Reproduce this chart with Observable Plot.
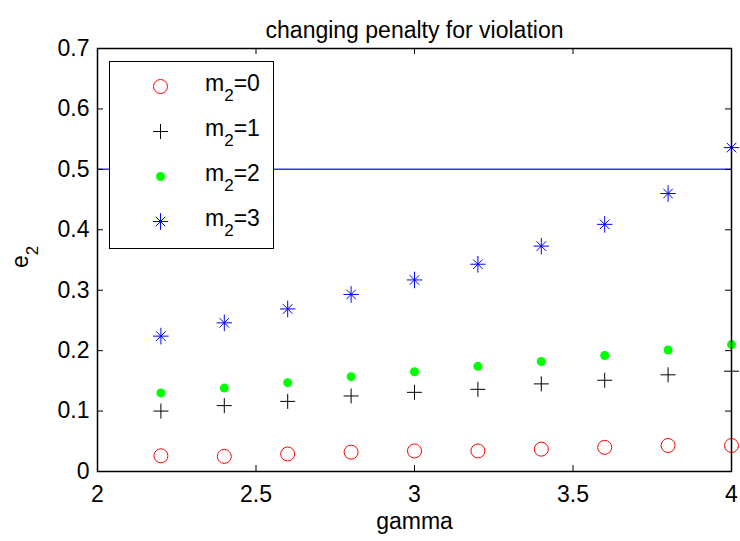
<!DOCTYPE html>
<html><head><meta charset="utf-8">
<script src="https://cdn.jsdelivr.net/npm/d3@7"></script>
<script src="https://cdn.jsdelivr.net/npm/@observablehq/plot@0.6"></script>
<style>
body{margin:0;background:#fff;}
#wrap{position:relative;width:740px;height:541px;font-family:"Liberation Sans",Arial,sans-serif;}
#legend{position:absolute;left:109px;top:61px;width:165px;height:188px;border:1.5px solid #000;background:#fff;box-sizing:border-box;}
#legend svg{position:absolute;left:0;top:0;}
.lrow{position:absolute;left:95px;font-size:23px;line-height:30px;white-space:nowrap;color:#000;}
.lrow .sub{font-size:17px;position:relative;top:10px;}
</style>
</head><body><div id="wrap"></div>
<script>
const gamma = [2.2, 2.4, 2.6, 2.8, 3.0, 3.2, 3.4, 3.6, 3.8, 4.0];
const m0 = [0.026, 0.025, 0.029, 0.032, 0.034, 0.034, 0.037, 0.040, 0.043, 0.043];
const m1 = [0.100, 0.109, 0.116, 0.125, 0.131, 0.136, 0.145, 0.151, 0.160, 0.166];
const m2 = [0.130, 0.138, 0.147, 0.157, 0.165, 0.174, 0.182, 0.192, 0.201, 0.210];
const m3 = [0.224, 0.246, 0.269, 0.293, 0.317, 0.343, 0.373, 0.409, 0.460, 0.536];
const seriesNames = ["0", "1", "2", "3"];
const xTicks = [2, 2.5, 3, 3.5, 4];
const yTicks = [0, 0.1, 0.2, 0.3, 0.4, 0.5, 0.6, 0.7];
const threshold = 0.5;
const title = "changing penalty for violation";
const xLabel = "gamma";

const W = 740, H = 541, mL = 97, mR = 9, mT = 48, mB = 70;
const pw = W - mL - mR, ph = H - mT - mB;

const plusSym = {draw(ctx, size) {
  const r = Math.sqrt(size / Math.PI);
  ctx.moveTo(-r, 0); ctx.lineTo(r, 0); ctx.moveTo(0, -r); ctx.lineTo(0, r);
}};
const starSym = {draw(ctx, size) {
  const r = Math.sqrt(size / Math.PI), d = r * 0.62;
  ctx.moveTo(-r, 0); ctx.lineTo(r, 0); ctx.moveTo(0, -r * 1.08); ctx.lineTo(0, r * 1.08);
  ctx.moveTo(-d, -d); ctx.lineTo(d, d); ctx.moveTo(-d, d); ctx.lineTo(d, -d);
}};

const styles = [
  {symbol: "circle", r: 7, stroke: "#ff0000", fill: "none", strokeWidth: 1},
  {symbol: plusSym, r: 7.5, stroke: "#000000", fill: "none", strokeWidth: 1},
  {symbol: "circle", r: 4.5, stroke: "none", fill: "#00ff00", strokeWidth: 0},
  {symbol: starSym, r: 7.7, stroke: "#0000ff", fill: "none", strokeWidth: 1}
];
const series = [m0, m1, m2, m3];

const plot = Plot.plot({
  width: W, height: H,
  marginLeft: mL, marginRight: mR, marginTop: mT, marginBottom: mB,
  style: {fontSize: "23px", fontFamily: "'Liberation Sans', Arial, sans-serif", background: "#fff", color: "#000"},
  x: {domain: [2, 4]},
  y: {domain: [0, 0.7]},
  marks: [
    Plot.ruleY([threshold], {y: d => d, stroke: "#3535ff", strokeWidth: 1.5}),
    ...series.map((s, k) => Plot.dot(gamma, {x: d => d, y: (d, i) => s[i], ...styles[k]})),
    Plot.ruleX(xTicks, {x: d => d, insetTop: ph - 6, stroke: "#000"}),
    Plot.ruleX(xTicks, {x: d => d, insetBottom: ph - 6, stroke: "#000"}),
    Plot.ruleY(yTicks, {y: d => d, insetRight: pw - 6, stroke: "#000"}),
    Plot.ruleY(yTicks, {y: d => d, insetLeft: pw - 6, stroke: "#000"}),
    Plot.frame({stroke: "#000", strokeWidth: 1.5}),
    Plot.axisX(xTicks, {tickSize: 0, tickPadding: 14, label: null, tickFormat: d => String(d)}),
    Plot.axisY(yTicks, {tickSize: 0, tickPadding: 8, label: null, tickFormat: d => String(d)}),
    Plot.text([title], {text: d => d, frameAnchor: "top", dy: -27}),
    Plot.text([xLabel], {text: d => d, frameAnchor: "bottom", dy: 57}),
    Plot.text(["e"], {text: d => d, frameAnchor: "left", dx: -77, dy: 8, rotate: -90})
  ]
});

const wrap = document.getElementById("wrap");
wrap.appendChild(plot);

// subscript on y label
const yl = d3.select(plot).selectAll("text").filter(function() { return this.textContent === "e"; });
yl.each(function() {
  d3.select(this).append("tspan").attr("font-size", 17).attr("dy", 10.5).text("2");
});

// legend
const legend = d3.select(wrap).append("div").attr("id", "legend");
const lsvg = legend.append("svg").attr("width", 162).attr("height", 185);
const rowY = [26, 71, 116, 161];
styles.forEach((st, k) => {
  const cy = rowY[k] - 1.5;
  lsvg.append("path")
    .attr("transform", `translate(${52 - 1.5},${cy})`)
    .attr("d", d3.symbol(st.symbol === "circle" ? d3.symbolCircle : st.symbol, st.r * st.r * Math.PI)())
    .attr("fill", st.fill).attr("stroke", st.stroke).attr("stroke-width", st.strokeWidth);
  const row = legend.append("div").attr("class", "lrow").style("top", (cy - 18.5) + "px");
  row.append("span").text("m");
  row.append("span").attr("class", "sub").text("2");
  row.append("span").text("=" + seriesNames[k]);
});
</script>
</body></html>
